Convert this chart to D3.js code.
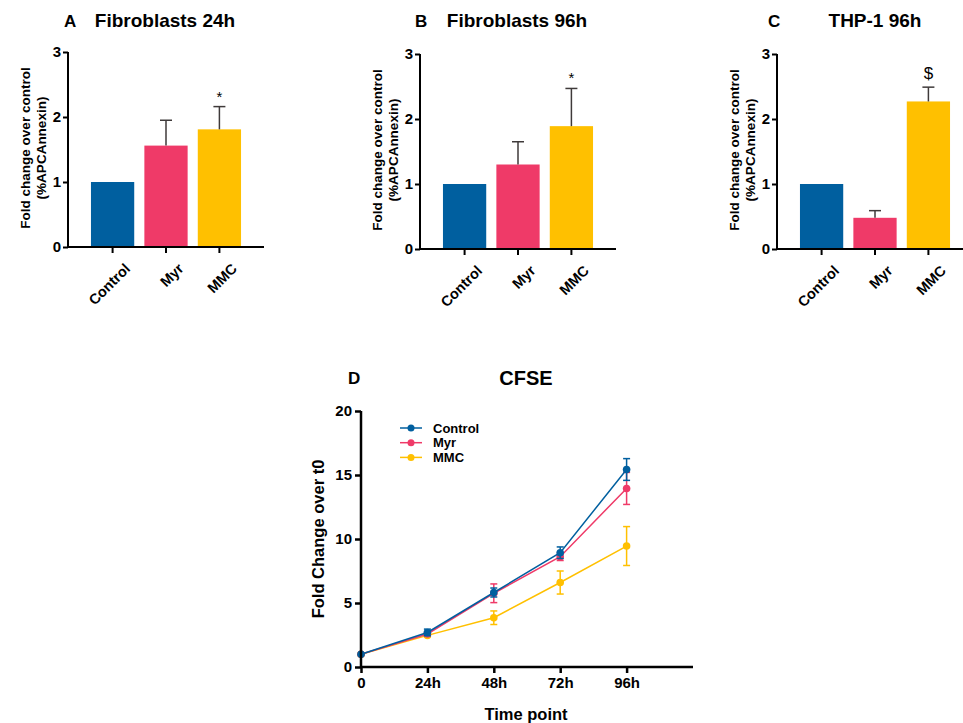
<!DOCTYPE html>
<html>
<head>
<meta charset="utf-8">
<script src="https://cdn.jsdelivr.net/npm/d3@7"></script>
<style>
  body { margin: 0; background: #fff; }
  svg { display: block; font-family: "Liberation Sans", Arial, sans-serif; font-weight: bold; }
</style>
</head>
<body>
<svg width="963" height="723"></svg>
<script>
// bar panel data
var groups = ["Control", "Myr", "MMC"];
var fib24Mean = [1.0, 1.56, 1.81];
var fib24Err = [0, 0.39, 0.35];
var fib96Mean = [1.0, 1.30, 1.89];
var fib96Err = [0, 0.35, 0.58];
var thpMean = [1.0, 0.48, 2.27];
var thpErr = [0, 0.11, 0.22];
var barTicks = [0, 1, 2, 3];

// CFSE data
var hours = [0, 24, 48, 72, 96];
var hourLabels = ["0", "24h", "48h", "72h", "96h"];
var cfseControl = [1.0, 2.7, 5.82, 8.93, 15.43];
var cfseControlErr = [0, 0.26, 0.35, 0.45, 0.85];
var cfseMyr = [1.0, 2.58, 5.76, 8.62, 13.95];
var cfseMyrErr = [0, 0.15, 0.73, 0.3, 1.25];
var cfseMMC = [1.0, 2.47, 3.85, 6.6, 9.45];
var cfseMMCErr = [0, 0.12, 0.53, 0.9, 1.52];
var cfseTicks = [0, 5, 10, 15, 20];

var colors = ["#005f9f", "#ef3a68", "#ffc000"];

var svg = d3.select("svg");

function styleAxis(a, w, fs) {
  a.select(".domain").attr("stroke", "#000").attr("stroke-width", w);
  a.selectAll(".tick line").attr("stroke", "#000").attr("stroke-width", w);
  a.selectAll("text").attr("fill", "#000").attr("font-size", fs)
    .attr("font-family", "Liberation Sans, Arial, sans-serif").attr("font-weight", "bold");
}

function barPanel(o) {
  var g = svg.append("g");
  var x = d3.scaleBand().domain(groups).range([o.x0, o.x0 + 196])
      .paddingInner(0.19).paddingOuter(0.43);
  var y = d3.scaleLinear().domain([0, 3]).range([o.y0, o.y0 - 195]);
  var cx = function(i) { return x(groups[i]) + x.bandwidth() / 2; };

  // bars
  g.selectAll("rect").data(o.mean).enter().append("rect")
    .attr("x", function(d, i) { return x(groups[i]); })
    .attr("width", x.bandwidth())
    .attr("y", function(d) { return y(d); })
    .attr("height", function(d) { return y(0) - y(d); })
    .attr("fill", function(d, i) { return colors[i]; });

  // error bars (upper only)
  o.mean.forEach(function(m, i) {
    if (!o.err[i]) return;
    g.append("line").attr("x1", cx(i)).attr("x2", cx(i))
      .attr("y1", y(m)).attr("y2", y(m + o.err[i]))
      .attr("stroke", "#3f3a3a").attr("stroke-width", 1.5);
    g.append("line").attr("x1", cx(i) - 6).attr("x2", cx(i) + 6)
      .attr("y1", y(m + o.err[i])).attr("y2", y(m + o.err[i]))
      .attr("stroke", "#3f3a3a").attr("stroke-width", 1.5);
  });

  // significance mark on MMC
  g.append("text")
    .attr("x", cx(2))
    .attr("y", y(o.mean[2] + o.err[2]) - (o.mark == "$" ? 8 : 5))
    .attr("text-anchor", "middle")
    .attr("font-size", o.mark == "$" ? 17 : 15)
    .attr("font-weight", "normal")
    .text(o.mark);

  // axes
  var ya = g.append("g").attr("transform", "translate(" + o.x0 + ",0)")
    .call(d3.axisLeft(y).tickValues(barTicks).tickFormat(d3.format("d")).tickSize(5).tickPadding(2));
  var xa = g.append("g").attr("transform", "translate(0," + o.y0 + ")")
    .call(d3.axisBottom(x).tickSize(6).tickSizeOuter(0));
  styleAxis(ya, 2, 15);
  styleAxis(xa, 2, 14.5);
  ya.select(".domain").attr("d", "M0," + o.y0 + "V" + (o.y0 - 195));
  xa.select(".domain").attr("d", "M" + o.x0 + ",0H" + (o.x0 + 196));
  xa.selectAll(".tick text")
    .attr("text-anchor", "end")
    .attr("transform", "translate(6,6) rotate(-45)")
    .attr("dy", "0.8em")
    .attr("dx", "-0.2em");

  // y label
  var cy = o.y0 - 99;
  g.append("text")
    .attr("transform", "translate(" + (o.x0 - 38) + "," + cy + ") rotate(-90)")
    .attr("text-anchor", "middle").attr("font-size", 13.5)
    .text("Fold change over control");
  g.append("text")
    .attr("transform", "translate(" + (o.x0 - 22) + "," + cy + ") rotate(-90)")
    .attr("text-anchor", "middle").attr("font-size", 13.5)
    .text("(%APCAnnexin)");

  // titles
  g.append("text").attr("x", o.letterX).attr("y", 27).attr("font-size", 17).text(o.letter);
  g.append("text").attr("x", o.titleX).attr("y", 27).attr("font-size", 19)
    .attr("text-anchor", "middle").text(o.title);
}

barPanel({ x0: 68, y0: 247, mean: fib24Mean, err: fib24Err, mark: "*",
  letter: "A", letterX: 64, title: "Fibroblasts 24h", titleX: 165 });
barPanel({ x0: 420, y0: 249, mean: fib96Mean, err: fib96Err, mark: "*",
  letter: "B", letterX: 415, title: "Fibroblasts 96h", titleX: 517 });
barPanel({ x0: 777, y0: 249, mean: thpMean, err: thpErr, mark: "$",
  letter: "C", letterX: 768, title: "THP-1 96h", titleX: 875 });

// CFSE line panel
var d = svg.append("g");
var x = d3.scaleLinear().domain([0, 120]).range([361, 693]);
var y = d3.scaleLinear().domain([0, 20]).range([667, 411]);

var series = [
  { name: "Control", vals: cfseControl, err: cfseControlErr, color: colors[0] },
  { name: "Myr", vals: cfseMyr, err: cfseMyrErr, color: colors[1] },
  { name: "MMC", vals: cfseMMC, err: cfseMMCErr, color: colors[2] }
];
var drawOrder = [series[2], series[1], series[0]];

var line = d3.line()
  .x(function(v, i) { return x(hours[i]); })
  .y(function(v) { return y(v); });

drawOrder.forEach(function(s) {
  var sg = d.append("g");
  sg.append("path").datum(s.vals).attr("d", line)
    .attr("fill", "none").attr("stroke", s.color).attr("stroke-width", 1.5);
  s.vals.forEach(function(v, i) {
    if (!s.err[i]) return;
    var px = x(hours[i]);
    sg.append("line").attr("x1", px).attr("x2", px)
      .attr("y1", y(v + s.err[i])).attr("y2", y(v - s.err[i]))
      .attr("stroke", s.color).attr("stroke-width", 1.5);
    [1, -1].forEach(function(sign) {
      sg.append("line").attr("x1", px - 3.5).attr("x2", px + 3.5)
        .attr("y1", y(v + sign * s.err[i])).attr("y2", y(v + sign * s.err[i]))
        .attr("stroke", s.color).attr("stroke-width", 1.5);
    });
  });
  sg.selectAll("circle").data(s.vals).enter().append("circle")
    .attr("cx", function(v, i) { return x(hours[i]); })
    .attr("cy", function(v) { return y(v); })
    .attr("r", 3.8).attr("fill", s.color);
});

var dya = d.append("g").attr("transform", "translate(361,0)")
  .call(d3.axisLeft(y).tickValues(cfseTicks).tickSize(6).tickPadding(3));
var dxa = d.append("g").attr("transform", "translate(0,667)")
  .call(d3.axisBottom(x).tickValues(hours).tickFormat(function(h, i) { return hourLabels[i]; })
    .tickSize(6).tickSizeOuter(0).tickPadding(4));
styleAxis(dya, 2.5, 15);
styleAxis(dxa, 2.5, 15);
dya.select(".domain").attr("d", "M0,667V411");
dxa.select(".domain").attr("d", "M361,0H693");

// legend
series.forEach(function(s, i) {
  var ly = 428 + i * 14.7;
  d.append("line").attr("x1", 400).attr("x2", 422).attr("y1", ly).attr("y2", ly)
    .attr("stroke", s.color).attr("stroke-width", 1.5);
  d.append("circle").attr("cx", 411).attr("cy", ly).attr("r", 3.5).attr("fill", s.color);
  d.append("text").attr("x", 433).attr("y", ly).attr("dy", "0.35em")
    .attr("font-size", 13).text(s.name);
});

d.append("text").attr("x", 348).attr("y", 384).attr("font-size", 17).text("D");
d.append("text").attr("x", 526).attr("y", 385).attr("font-size", 20)
  .attr("text-anchor", "middle").text("CFSE");
d.append("text").attr("transform", "translate(324,539) rotate(-90)")
  .attr("text-anchor", "middle").attr("font-size", 16.5).text("Fold Change over t0");
d.append("text").attr("x", 526).attr("y", 720).attr("font-size", 16.5)
  .attr("text-anchor", "middle").text("Time point");
</script>
</body>
</html>
